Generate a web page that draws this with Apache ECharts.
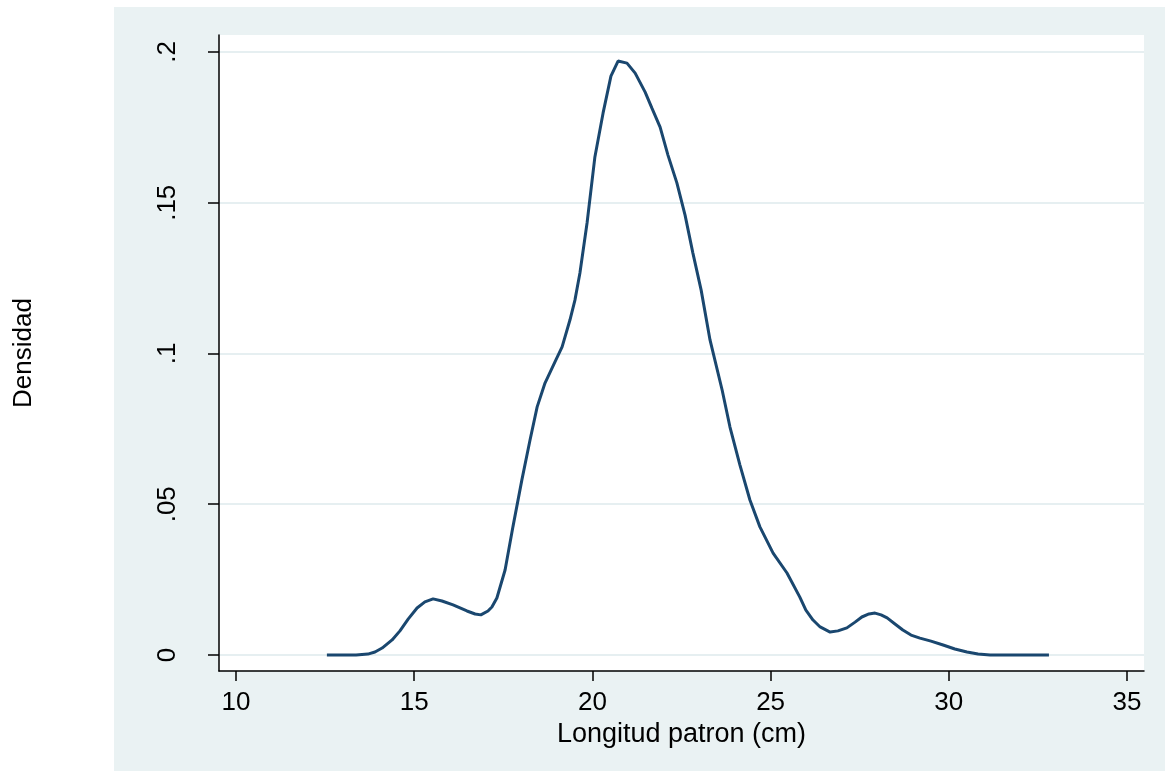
<!DOCTYPE html>
<html>
<head>
<meta charset="utf-8">
<script src="https://cdn.jsdelivr.net/npm/echarts@6/dist/echarts.min.js"></script>
<style>
html,body{margin:0;padding:0;background:#fff;}
#chart{width:1165px;height:771px;}
</style>
</head>
<body>
<div id="chart"></div>
<script>
// Kernel density estimate
const lengths = [12.55,12.95,13.37,13.70,13.90,14.10,14.38,14.60,14.83,15.08,15.30,15.53,15.78,16.09,16.48,16.71,16.87,17.07,17.18,17.32,17.55,17.77,18.02,18.25,18.45,18.67,18.95,19.15,19.37,19.51,19.65,19.85,20.07,20.30,20.52,20.72,20.97,21.20,21.48,21.67,21.90,22.12,22.37,22.60,22.82,23.05,23.30,23.64,23.86,24.14,24.42,24.70,25.07,25.46,25.82,25.99,26.19,26.39,26.67,26.89,27.14,27.37,27.56,27.76,27.93,28.10,28.27,28.49,28.71,28.94,29.19,29.50,29.84,30.17,30.51,30.82,31.16,31.58,32.00,32.42,32.81];
const density = [0,0,0,0.0003,0.0010,0.0023,0.0050,0.0080,0.0119,0.0156,0.0176,0.0186,0.0179,0.0166,0.0146,0.0136,0.0133,0.0146,0.0159,0.0189,0.0282,0.0425,0.0580,0.0713,0.0823,0.0902,0.0972,0.1022,0.1111,0.1177,0.1267,0.1433,0.1652,0.1798,0.1920,0.1970,0.1963,0.1930,0.1867,0.1814,0.1751,0.1658,0.1566,0.1459,0.1333,0.1211,0.1045,0.0879,0.0756,0.0630,0.0514,0.0425,0.0338,0.0272,0.0192,0.0149,0.0116,0.0093,0.0076,0.0080,0.0090,0.0109,0.0126,0.0136,0.0139,0.0133,0.0123,0.0103,0.0083,0.0066,0.0056,0.0046,0.0033,0.0020,0.0010,0.0003,0,0,0,0,0];
const xTicks = [10,15,20,25,30,35];
const yTicks = [0,0.05,0.1,0.15,0.2];
const xTitle = 'Longitud patron (cm)';
const yTitle = 'Densidad';

const points = lengths.map((x,i)=>[x,density[i]]);
const font = '"Liberation Sans", Arial, sans-serif';

const chart = echarts.init(document.getElementById('chart'), null, {renderer:'canvas'});
chart.setOption({
  backgroundColor:'#ffffff',
  animation:false,
  graphic:[{type:'rect', z:-10, silent:true, shape:{x:114,y:7,width:1051,height:764}, style:{fill:'#EAF2F3'}}],
  grid:{left:219,right:21,top:35,bottom:100,show:true,backgroundColor:'#ffffff',borderWidth:0,containLabel:false},
  xAxis:{
    type:'value', min:9.523, max:35.477,
    name:xTitle, nameLocation:'middle', nameGap:45,
    nameTextStyle:{fontFamily:font,fontSize:27,color:'#000'},
    axisLine:{show:true,onZero:false,lineStyle:{color:'#000',width:1.5}},
    axisTick:{show:true,length:10,customValues:xTicks,lineStyle:{color:'#000',width:1.5}},
    axisLabel:{customValues:xTicks,margin:19,fontFamily:font,fontSize:26,color:'#000'},
    splitLine:{show:false}
  },
  yAxis:{
    type:'value', min:-0.00531, max:0.20564,
    name:yTitle, nameLocation:'middle', nameGap:182, nameRotate:90,
    nameTextStyle:{fontFamily:font,fontSize:26,color:'#000'},
    axisLine:{show:true,onZero:false,lineStyle:{color:'#000',width:1.5}},
    axisTick:{show:true,length:11,customValues:yTicks,lineStyle:{color:'#000',width:1.5}},
    axisLabel:{customValues:yTicks,rotate:90,margin:38,fontFamily:font,fontSize:26,color:'#000',
      formatter:v=> v===0 ? '0' : String(v).replace(/^0/,'')},
    splitLine:{show:true,lineStyle:{color:'#E6EFF1',width:2}}
  },
  series:[{
    type:'line', data:points, showSymbol:false, smooth:false,
    lineStyle:{color:'#1a476f',width:3}, itemStyle:{color:'#1a476f'}
  }]
});
</script>
</body>
</html>
